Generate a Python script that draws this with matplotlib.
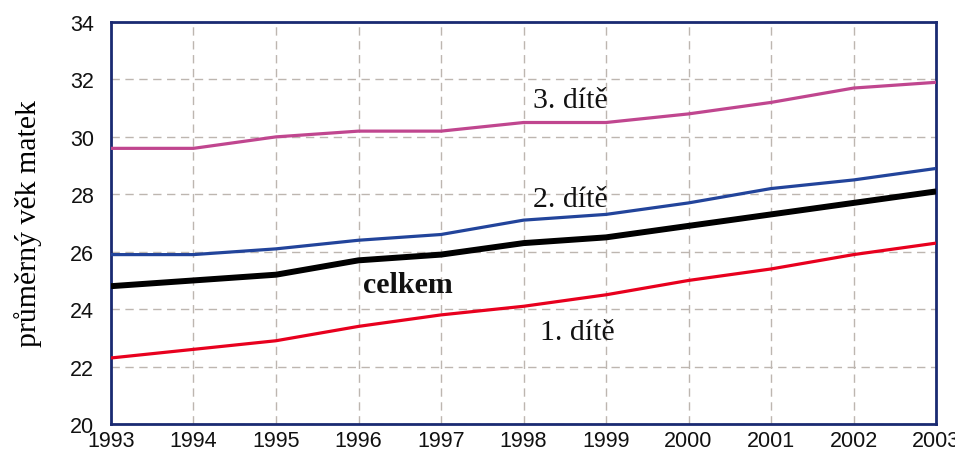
import matplotlib
matplotlib.use("Agg")
import matplotlib.pyplot as plt

years = [1993, 1994, 1995, 1996, 1997, 1998, 1999, 2000, 2001, 2002, 2003]
third = [29.6, 29.6, 30.0, 30.2, 30.2, 30.5, 30.5, 30.8, 31.2, 31.7, 31.9]
second = [25.9, 25.9, 26.1, 26.4, 26.6, 27.1, 27.3, 27.7, 28.2, 28.5, 28.9]
total = [24.8, 25.0, 25.2, 25.7, 25.9, 26.3, 26.5, 26.9, 27.3, 27.7, 28.1]
first = [22.3, 22.6, 22.9, 23.4, 23.8, 24.1, 24.5, 25.0, 25.4, 25.9, 26.3]
yticks = [20, 22, 24, 26, 28, 30, 32, 34]
ylabel = "průměrný věk matek"

fig = plt.figure(figsize=(9.55, 4.52), dpi=100)
ax = fig.add_axes([0.1162, 0.0597, 0.8640, 0.8894])

ax.plot(years, third, color="#c0468f", lw=2.3, solid_capstyle="butt", zorder=3)
ax.plot(years, second, color="#22449b", lw=2.3, solid_capstyle="butt", zorder=3)
ax.plot(years, total, color="#000000", lw=4.3, solid_capstyle="butt", zorder=4)
ax.plot(years, first, color="#e8001e", lw=2.3, solid_capstyle="butt", zorder=3)

ax.set_xlim(1993, 2003)
ax.set_ylim(20, 34)
ax.set_xticks(years)
ax.set_yticks(yticks)
ax.grid(True, color="#bdb6b0", linestyle=(0, (6, 4)), lw=1.0)
ax.set_axisbelow(True)
for s in ax.spines.values():
    s.set_color("#1a2a72")
    s.set_linewidth(2.0)

ax.tick_params(axis="both", length=0, labelsize=15.5, labelcolor="#111111")
ax.tick_params(axis="y", pad=12)
ax.tick_params(axis="x", pad=4)
for lab in ax.get_xticklabels() + ax.get_yticklabels():
    lab.set_family("Liberation Sans")

ax.set_ylabel(ylabel, family="Liberation Serif", fontsize=21.5, labelpad=20)

tkw = dict(family="Liberation Serif", fontsize=21.5, ha="left", va="baseline", color="#111111")
ax.text(1998.115, 31.04, "3. dítě", **tkw)
ax.text(1998.115, 27.6, "2. dítě", **tkw)
ax.text(1996.05, 24.6, "celkem", fontweight="bold", **tkw)
ax.text(1998.2, 22.96, "1. dítě", **tkw)

fig.savefig("out.png", dpi=100)
